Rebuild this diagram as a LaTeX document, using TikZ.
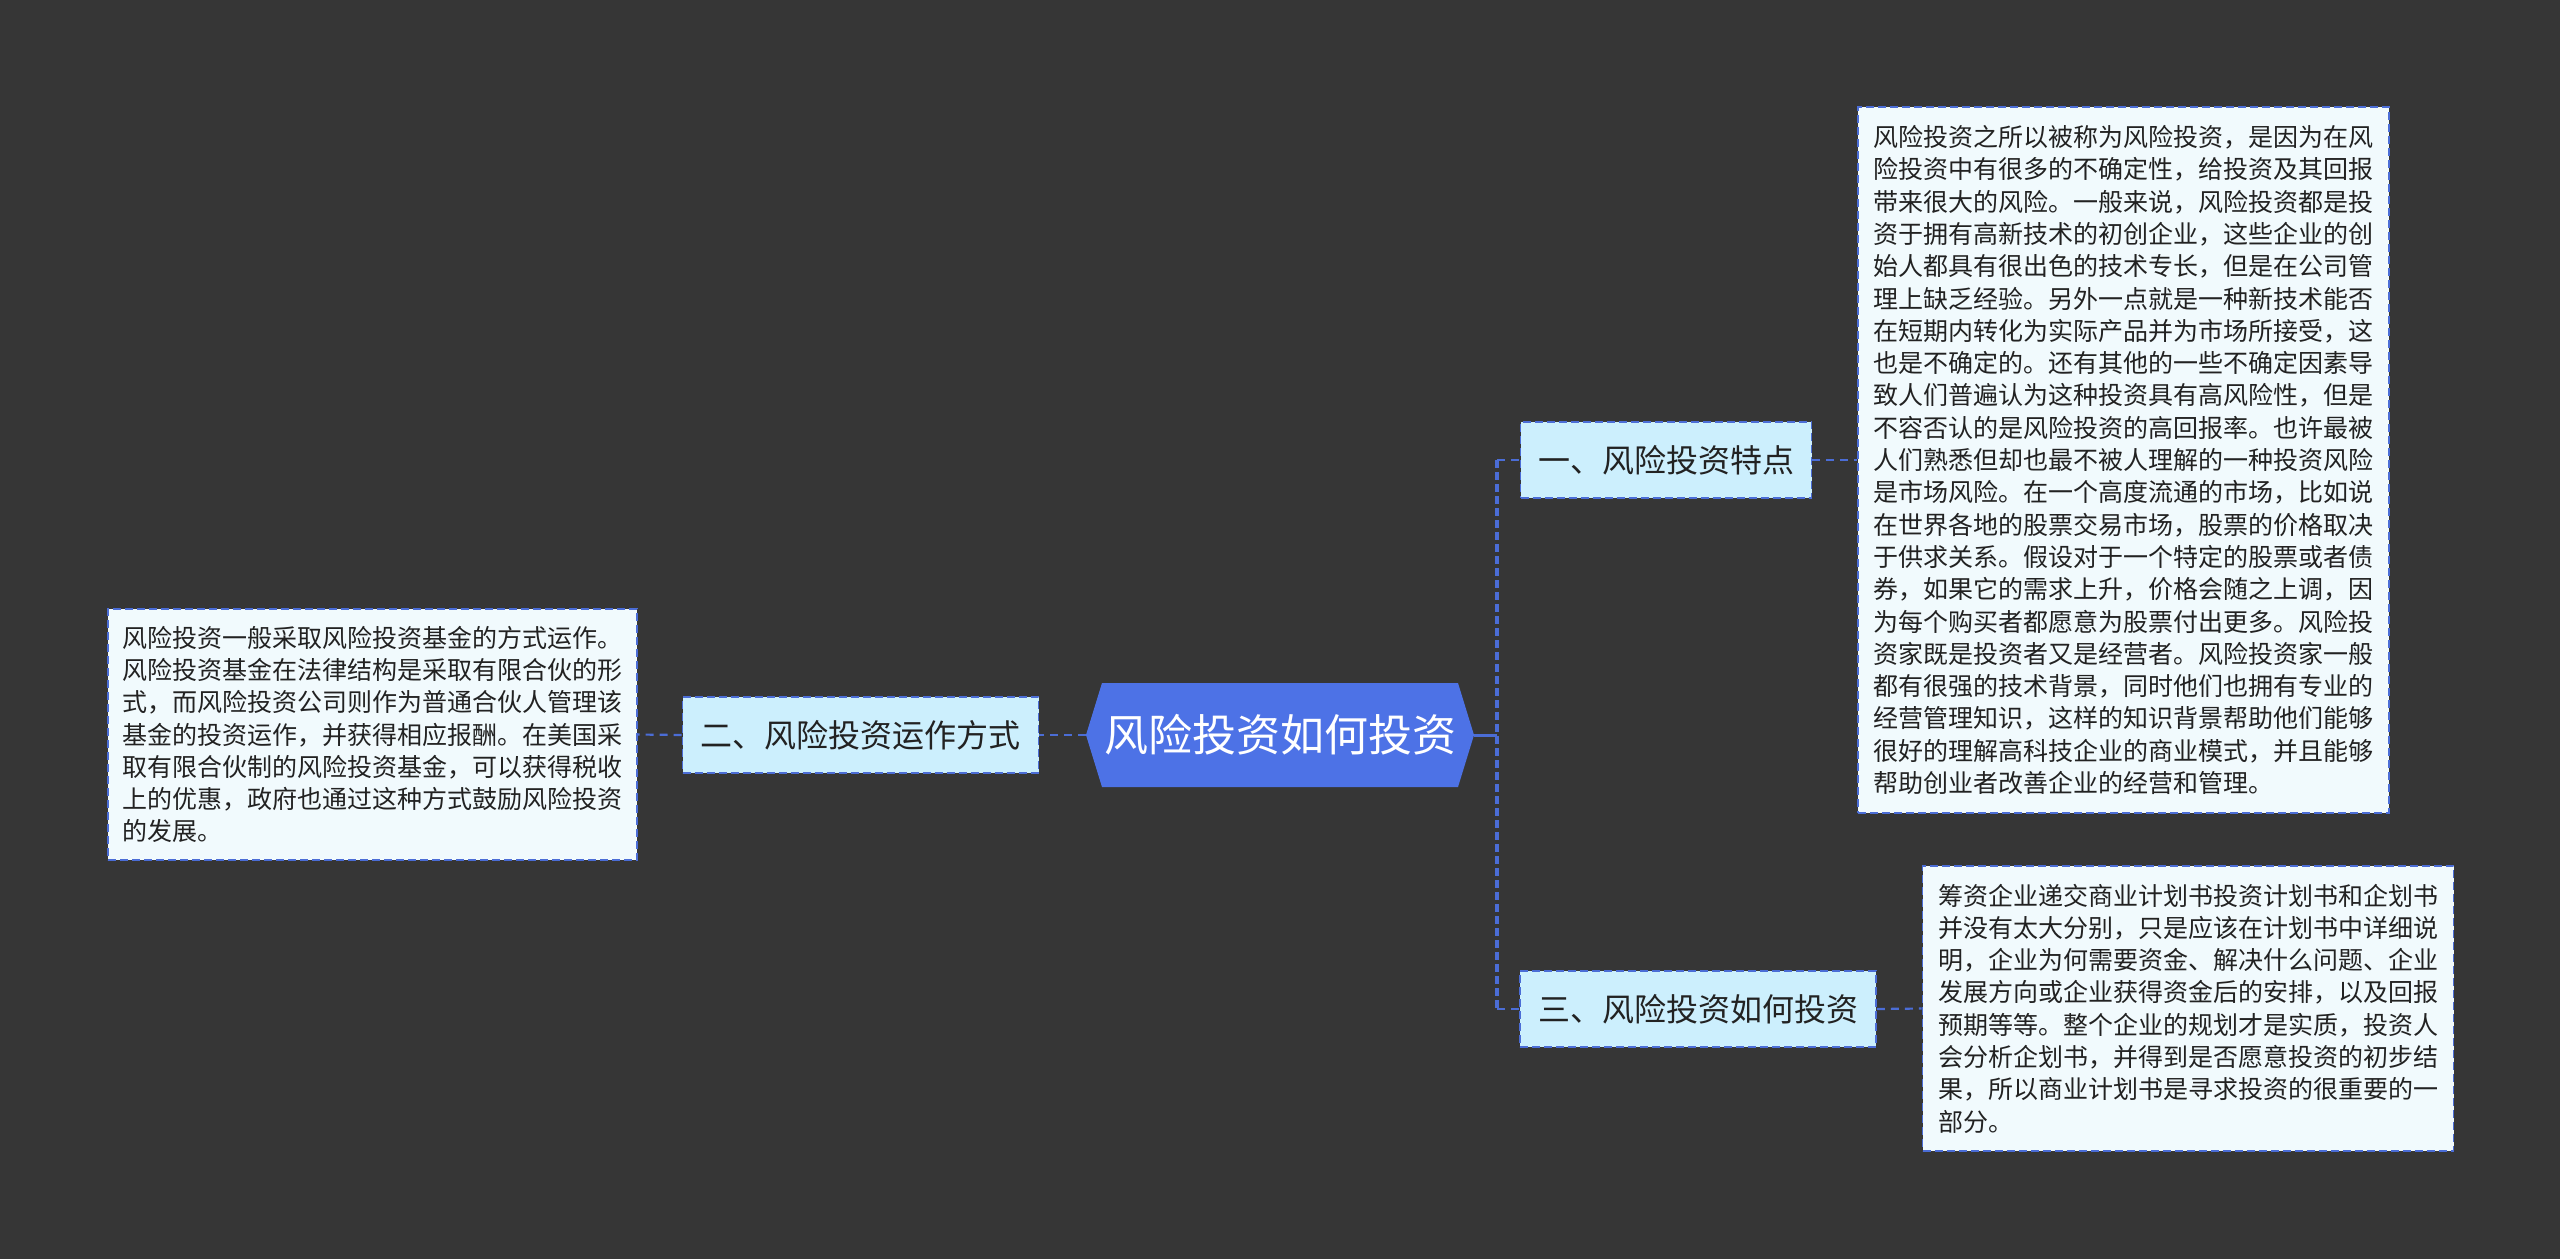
\documentclass[tikz,border=0pt]{standalone}
\usepackage{fontspec}
\setmainfont{Noto Sans CJK SC}
\definecolor{bgdark}{HTML}{363636}
\definecolor{hubblue}{HTML}{4D72E6}
\definecolor{linkblue}{HTML}{4B6DD6}
\definecolor{topicfill}{HTML}{CCEFFD}
\definecolor{notefill}{HTML}{F1FAFD}
\definecolor{inkdark}{HTML}{222222}

\begin{document}
\begin{tikzpicture}[x=0.5pt, y=-0.5pt,
  every node/.style={inner sep=0pt},
  hub/.style={text=white, font=\fontsize{22pt}{26pt}\selectfont, minimum width=194pt, minimum height=52pt},
  topic/.style={draw=linkblue, dash pattern=on 4pt off 2pt, line width=0.9pt, fill=topicfill, minimum height=38pt, text=inkdark, font=\fontsize{16pt}{20pt}\selectfont},
  note/.style={draw=linkblue, dash pattern=on 4pt off 2pt, line width=0.9pt, fill=notefill, align=left, text=inkdark, font=\fontsize{12.5pt}{16.15pt}\selectfont},
  link/.style={draw=linkblue, line width=1.1pt, dash pattern=on 4pt off 3pt},
  trunk/.style={draw=linkblue, line width=2pt, dash pattern=on 4pt off 2pt}]

  % background
  \fill[bgdark] (0,0) rectangle (2560,1259);

  % central topic
  \fill[hubblue] (1086,735) -- (1102,683) -- (1458,683) -- (1474,735) -- (1458,787) -- (1102,787) -- cycle;
  \node[hub] (root) at (1280,735) {风险投资如何投资};

  % branches
  \node[topic, minimum width=145.5pt] (t1) at (1666,460) {一、风险投资特点};
  \node[topic, minimum width=178pt] (t2) at (860.5,735) {二、风险投资运作方式};
  \node[topic, minimum width=178pt] (t3) at (1698,1009) {三、风险投资如何投资};

  % notes
  \node[note, minimum width=265.5pt, minimum height=353pt] (n1) at (2123.5,460) {风险投资之所以被称为风险投资，是因为在风\\险投资中有很多的不确定性，给投资及其回报\\带来很大的风险。一般来说，风险投资都是投\\资于拥有高新技术的初创企业，这些企业的创\\始人都具有很出色的技术专长，但是在公司管\\理上缺乏经验。另外一点就是一种新技术能否\\在短期内转化为实际产品并为市场所接受，这\\也是不确定的。还有其他的一些不确定因素导\\致人们普遍认为这种投资具有高风险性，但是\\不容否认的是风险投资的高回报率。也许最被\\人们熟悉但却也最不被人理解的一种投资风险\\是市场风险。在一个高度流通的市场，比如说\\在世界各地的股票交易市场，股票的价格取决\\于供求关系。假设对于一个特定的股票或者债\\券，如果它的需求上升，价格会随之上调，因\\为每个购买者都愿意为股票付出更多。风险投\\资家既是投资者又是经营者。风险投资家一般\\都有很强的技术背景，同时他们也拥有专业的\\经营管理知识，这样的知识背景帮助他们能够\\很好的理解高科技企业的商业模式，并且能够\\帮助创业者改善企业的经营和管理。};
  \node[note, minimum width=264.5pt, minimum height=125.5pt] (n2) at (372.5,734.5) {风险投资一般采取风险投资基金的方式运作。\\风险投资基金在法律结构是采取有限合伙的形\\式，而风险投资公司则作为普通合伙人管理该\\基金的投资运作，并获得相应报酬。在美国采\\取有限合伙制的风险投资基金，可以获得税收\\上的优惠，政府也通过这种方式鼓励风险投资\\的发展。};
  \node[note, minimum width=265.5pt, minimum height=142.5pt] (n3) at (2188,1008.5) {筹资企业递交商业计划书投资计划书和企划书\\并没有太大分别，只是应该在计划书中详细说\\明，企业为何需要资金、解决什么问题、企业\\发展方向或企业获得资金后的安排，以及回报\\预期等等。整个企业的规划才是实质，投资人\\会分析企划书，并得到是否愿意投资的初步结\\果，所以商业计划书是寻求投资的很重要的一\\部分。};

  % connectors
  \coordinate (fork) at (1497,735);
  \draw[draw=linkblue, line width=1.5pt] (root.east) -- (fork);
  \draw[trunk] (fork |- t1.west) -- (fork |- t3.west);
  \draw[link] (fork |- t1.west) -- (t1.west);
  \draw[link] (fork |- t3.west) -- (t3.west);
  \draw[link] (root.west) -- (t2.east);
  \draw[link] (t2.west) -- (n2.east);
  \draw[link] (t1.east) -- (n1.west);
  \draw[link] (t3.east) -- (n3.west);
\end{tikzpicture}
\end{document}
